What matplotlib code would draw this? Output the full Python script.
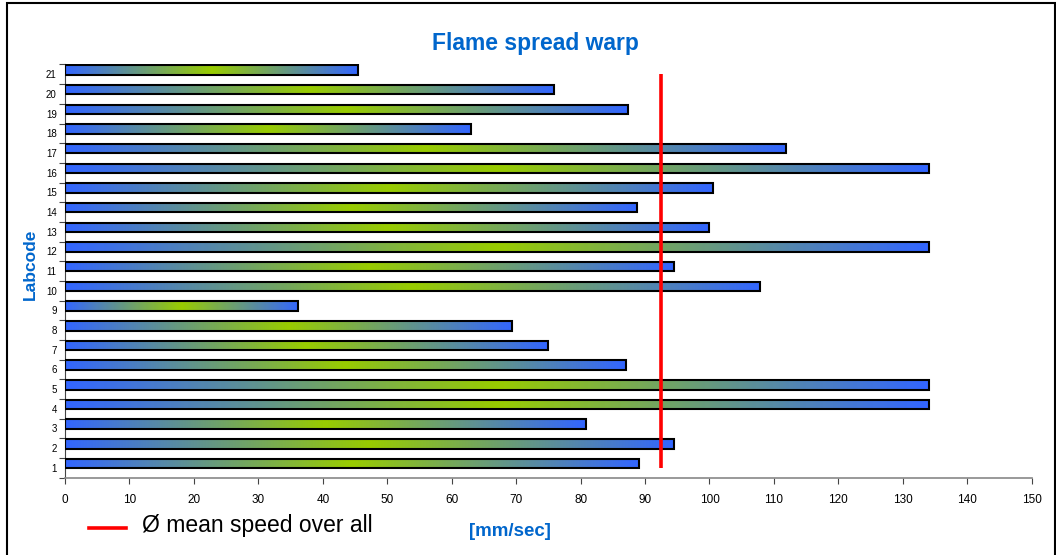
import numpy as np
import matplotlib
matplotlib.use("Agg")
import matplotlib.pyplot as plt
from matplotlib.colors import LinearSegmentedColormap
from matplotlib.patches import Rectangle

plt.rcParams['font.family'] = ['Liberation Sans', 'DejaVu Sans']

# flame spread speed per lab [mm/sec]
labcodes = list(range(1, 22))
speeds = [89.0, 94.5, 80.8, 134.0, 134.0, 87.0, 74.9, 69.4, 36.2, 107.9, 94.5,
          134.0, 99.9, 88.8, 100.5, 134.0, 111.8, 63.0, 87.3, 75.9, 45.5]
mean_speed = np.mean(speeds)

title_blue = '#0066CC'
grad = LinearSegmentedColormap.from_list('bgb', ['#3366FF', '#99CC00', '#3366FF'])
ramp = np.linspace(0, 1, 256).reshape(1, -1)

fig = plt.figure(figsize=(10.56, 5.55), dpi=100)
ax = fig.add_axes([0.0616, 0.1393, 0.9154, 0.7445])

pos = np.array(labcodes) + 0.22
bars = ax.barh(pos, speeds, height=0.48, facecolor='none', edgecolor='black',
               linewidth=1.5, zorder=3)

# gradient fill inside each bar
for b in bars:
    x0, y0 = b.get_x(), b.get_y()
    w, h = b.get_width(), b.get_height()
    ax.imshow(ramp, cmap=grad, aspect='auto', extent=(x0, x0 + w, y0, y0 + h),
              interpolation='bicubic', zorder=2)

# mean line
ax.plot([mean_speed, mean_speed], [labcodes[0], labcodes[-1]], color='#FF0000',
        linewidth=2.6, solid_capstyle='butt', zorder=4)

ax.set_xlim(0, 150)
ax.set_ylim(0.5, 21.5)
ax.set_xticks(np.arange(0, 151, 10))
ax.set_yticks(labcodes)
ax.set_yticklabels([str(c) for c in labcodes], fontsize=7)
ax.set_yticks(np.arange(0.5, 22, 1), minor=True)
ax.tick_params(axis='y', which='major', length=0, pad=6)
ax.tick_params(axis='y', which='minor', length=4, width=0.8, color='#444444')
ax.tick_params(axis='x', labelsize=8.5, length=4, width=0.8, color='#444444', pad=8)

for s in ['top', 'right']:
    ax.spines[s].set_visible(False)
ax.spines['left'].set_color('#444444')
ax.spines['bottom'].set_color('#888888')
ax.spines['bottom'].set_linewidth(1.2)

fig.text(0.507, 0.922, 'Flame spread warp', ha='center', va='center',
         fontsize=16.5, fontweight='bold', color=title_blue)
fig.text(0.029, 0.524, 'Labcode', ha='center', va='center', rotation=90,
         fontsize=12.5, fontweight='bold', color=title_blue)
fig.text(0.483, 0.042, '[mm/sec]', ha='center', va='center',
         fontsize=13.5, fontweight='bold', color=title_blue)

# legend entry for the mean line
fig.add_artist(plt.Line2D([0.084, 0.119], [0.049, 0.049], color='#FF0000',
                          linewidth=2.6, transform=fig.transFigure))
fig.text(0.134, 0.054, 'Ø mean speed over all', ha='left', va='center',
         fontsize=16.5, color='black')

# outer frame
fig.add_artist(Rectangle((0.0066, -0.01), 0.9925, 1.0046, transform=fig.transFigure,
                         fill=False, edgecolor='black', linewidth=1.5))

fig.savefig('out.png', dpi=100)
